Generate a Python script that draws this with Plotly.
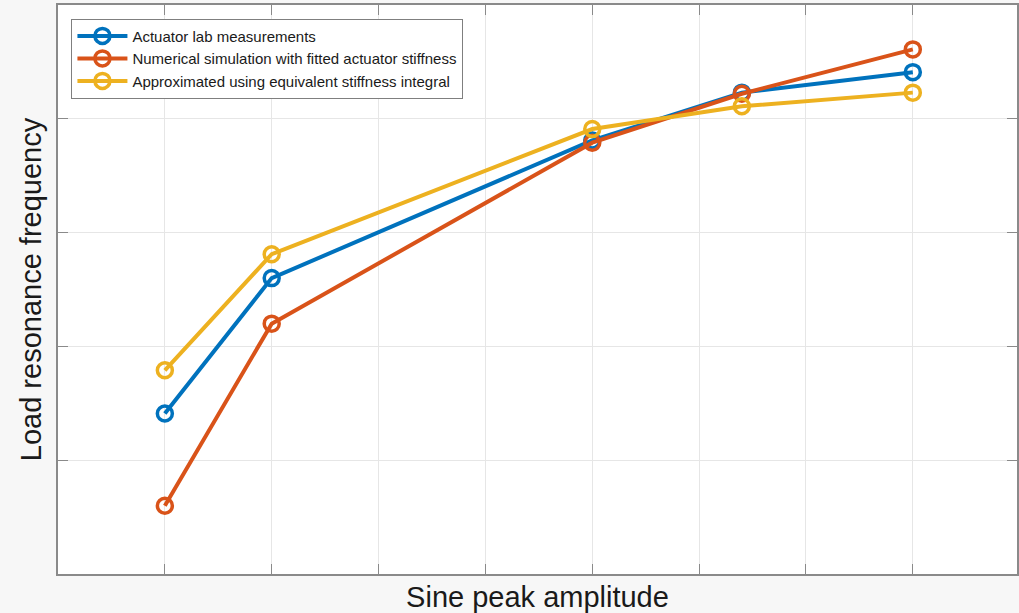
import plotly.graph_objects as go

amplitude = [1, 2, 5, 6.4, 8]
lab_meas = [1.41, 2.60, 3.81, 4.23, 4.41]
num_sim = [0.60, 2.20, 3.79, 4.22, 4.61]
approx_int = [1.79, 2.81, 3.91, 4.11, 4.23]

names = ["Actuator lab measurements",
         "Numerical simulation with fitted actuator stiffness",
         "Approximated using equivalent stiffness integral"]
colors = ["#0072BD", "#D95319", "#EDB120"]
series = [lab_meas, num_sim, approx_int]

fig = go.Figure()
for nm, col, ys in zip(names, colors, series):
    fig.add_trace(go.Scatter(
        x=amplitude, y=ys, name=nm, mode="lines+markers",
        line=dict(color=col, width=4),
        marker=dict(symbol="circle-open", size=15, color=col, line=dict(width=3.5, color=col)),
    ))

axis_common = dict(
    showline=True, linecolor="#8a8a8a", linewidth=1.5, mirror="ticks",
    ticks="inside", ticklen=10, tickcolor="#8a8a8a", tickwidth=1,
    showticklabels=False, showgrid=True, gridcolor="#e6e6e6", gridwidth=1,
    zeroline=False,
)

fig.update_layout(
    width=1019, height=613,
    margin=dict(l=58, r=0, t=5, b=39),
    paper_bgcolor="#f7f7f7", plot_bgcolor="white",
    font=dict(family="Liberation Sans, Arial, sans-serif", color="#262626"),
    xaxis=dict(range=[0, 8.975], tickmode="array", tickvals=list(range(0, 10)),
               title=dict(text="Sine peak amplitude", font=dict(size=29, color="#1a1a1a"), standoff=12),
               **axis_common),
    yaxis=dict(range=[0, 5.0], tickmode="array", tickvals=[0, 1, 2, 3, 4, 5],
               title=dict(text="Load resonance frequency", font=dict(size=29, color="#1a1a1a"), standoff=6),
               **axis_common),
    legend=dict(x=0.014, y=0.976, xanchor="left", yanchor="top",
                bgcolor="white", bordercolor="#7f7f7f", borderwidth=1,
                itemwidth=50,
                font=dict(size=15, color="#1a1a1a"), tracegroupgap=0),
    showlegend=True,
)

fig.write_html("out.html", config={"displayModeBar": False},
               post_script="document.body.style.margin='0px';")
